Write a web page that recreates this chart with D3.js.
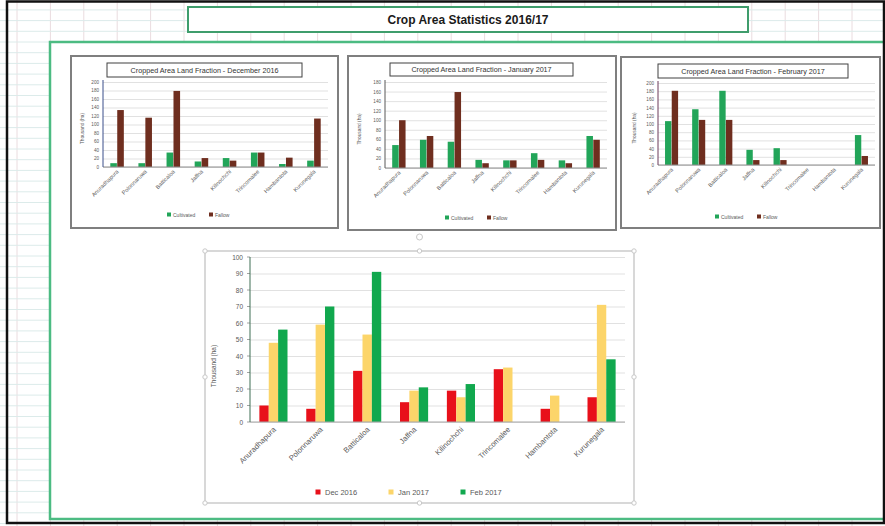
<!DOCTYPE html>
<html>
<head>
<meta charset="utf-8">
<script src="https://cdn.jsdelivr.net/npm/d3@7"></script>
<style>
  html, body { margin: 0; padding: 0; background: #ffffff; }
  svg { display: block; font-family: "Liberation Sans", Arial, sans-serif; }
</style>
</head>
<body>
<svg id="chart" width="885" height="526"></svg>
<script>
// ---------- DATA ----------
const pageTitle = "Crop Area Statistics 2016/17";
const categories = ["Anuradhapura", "Polonnaruwa", "Batticaloa", "Jaffna", "Kilinochchi", "Trincomalee", "Hambantota", "Kurunegala"];

// Main chart (Thousand ha)
const mainSeriesNames = ["Dec 2016", "Jan 2017", "Feb 2017"];
const dec2016 = [10, 8, 31, 12, 19, 32, 8, 15];
const jan2017 = [48, 59, 53, 19, 15, 33, 16, 71];
const feb2017 = [56, 70, 91, 21, 23, 0, 0, 38];
const mainTicks = [0, 10, 20, 30, 40, 50, 60, 70, 80, 90, 100];

// Small charts
const smallSeriesNames = ["Cultivated", "Fallow"];
const smallTitles = [
  "Cropped Area Land Fraction - December 2016",
  "Cropped Area Land Fraction - January 2017",
  "Cropped Area Land Fraction - February 2017"
];
const decCultivated = [9, 9, 34, 13, 21, 34, 7, 15];
const decFallow     = [134, 116, 179, 21, 15, 34, 22, 114];
const janCultivated = [48, 59, 55, 17, 16, 31, 16, 67];
const janFallow     = [100, 67, 159, 10, 16, 17, 10, 59];
const febCultivated = [107, 136, 181, 37, 41, 0, 0, 73];
const febFallow     = [181, 110, 110, 12, 12, 0, 0, 22];
const decTicks = [0, 20, 40, 60, 80, 100, 120, 140, 160, 180, 200];
const janTicks = [0, 20, 40, 60, 80, 100, 120, 140, 160, 180];
const febTicks = [0, 20, 40, 60, 80, 100, 120, 140, 160, 180, 200];
const yAxisTitle = "Thousand (ha)";

// ---------- DRAW ----------
const svg = d3.select("#chart");
const W = 885, H = 526;

// spreadsheet grid
const grid = svg.append("g");
const colXs = d3.range(-1, 27).map(k => 17 + 33.4 * k);
const rowYs = d3.range(-4, 50).map(k => 42 + 10.7 * k);
grid.selectAll("line.v").data(colXs).join("line")
  .attr("x1", d => d).attr("x2", d => d).attr("y1", 0).attr("y2", H)
  .attr("stroke", "#eadcdf").attr("stroke-width", 1);
grid.selectAll("line.h").data(rowYs).join("line")
  .attr("x1", 0).attr("x2", W).attr("y1", d => d).attr("y2", d => d)
  .attr("stroke", "#dcebea").attr("stroke-width", 1);

// white sheet area with green frame
svg.append("rect").attr("x", 50).attr("y", 42).attr("width", 840).attr("height", 477)
  .attr("fill", "#ffffff").attr("stroke", "#4cbb82").attr("stroke-width", 2.5);

// title box
svg.append("rect").attr("x", 188).attr("y", 7).attr("width", 560).attr("height", 25)
  .attr("fill", "#ffffff").attr("stroke", "#3f9d6c").attr("stroke-width", 2);
svg.append("text").attr("x", 468).attr("y", 24).attr("text-anchor", "middle")
  .attr("font-size", 12).attr("font-weight", "bold").attr("fill", "#1a1a1a")
  .text(pageTitle);

// outer black frame
svg.append("rect").attr("x", 7).attr("y", 1.5).attr("width", 877).attr("height", 521.5)
  .attr("fill", "none").attr("stroke", "#111").attr("stroke-width", 2.5);

function drawSmall(cfg) {
  const g = svg.append("g");
  const [bx0, by0, bx1, by1] = cfg.box;
  g.append("rect").attr("x", bx0).attr("y", by0).attr("width", bx1 - bx0).attr("height", by1 - by0)
    .attr("fill", "#fff").attr("stroke", "#7f7f7f").attr("stroke-width", 2);
  // title box
  const [tx0, ty0, tx1, ty1] = cfg.titleBox;
  g.append("rect").attr("x", tx0).attr("y", ty0).attr("width", tx1 - tx0).attr("height", ty1 - ty0)
    .attr("fill", "#fff").attr("stroke", "#404040").attr("stroke-width", 1);
  g.append("text").attr("x", (tx0 + tx1) / 2).attr("y", (ty0 + ty1) / 2 + 2.5)
    .attr("text-anchor", "middle").attr("font-size", 7.2).attr("fill", "#333").text(cfg.title);

  const p = cfg.plot;
  const x = d3.scaleBand().domain(categories).range([p.x0, p.x1]);
  const xs = d3.scaleBand().domain(smallSeriesNames).range([0, x.bandwidth()])
    .paddingInner(0.05).paddingOuter(1.05);
  const ymax = cfg.ticks[cfg.ticks.length - 1];
  const y = d3.scaleLinear().domain([0, ymax]).range([p.y0, p.yTop]);

  // gridlines + labels
  const ax = g.append("g").attr("transform", `translate(${p.x0},0)`)
    .call(d3.axisLeft(y).tickValues(cfg.ticks).tickSize(-(p.x1 - p.x0)).tickPadding(4));
  ax.select(".domain").remove();
  ax.selectAll(".tick line").attr("stroke", "#d9d9d9").attr("stroke-width", 0.8);
  ax.selectAll(".tick text").attr("font-size", 4.6).attr("fill", "#595959")
    .attr("font-family", "Liberation Sans, Arial, sans-serif");

  const series = [cfg.s1, cfg.s2];
  const colors = ["#22a559", "#6f2e1f"];
  categories.forEach((c, i) => {
    series.forEach((vals, j) => {
      g.append("rect")
        .attr("x", x(c) + xs(smallSeriesNames[j]))
        .attr("y", y(vals[i]))
        .attr("width", xs.bandwidth())
        .attr("height", y(0) - y(vals[i]))
        .attr("fill", colors[j]);
    });
  });
  // axes lines
  g.append("line").attr("x1", p.x0).attr("x2", p.x1).attr("y1", y(0)).attr("y2", y(0))
    .attr("stroke", "#8c8c8c").attr("stroke-width", 1);
  g.append("line").attr("x1", p.x0).attr("x2", p.x0).attr("y1", y(0)).attr("y2", p.yTop - 2)
    .attr("stroke", cfg.yAxisColor).attr("stroke-width", 1);

  // category labels
  categories.forEach(c => {
    const cx = x(c) + x.bandwidth() / 2 + 2;
    g.append("text").attr("transform", `translate(${cx},${y(0) + 5}) rotate(-45)`)
      .attr("text-anchor", "end").attr("font-size", 5.6).attr("fill", "#595959").text(c);
  });
  // y title
  g.append("text").attr("transform", `translate(${cfg.ytitleX},${(p.y0 + p.yTop) / 2 + 4}) rotate(-90)`)
    .attr("text-anchor", "middle").attr("font-size", 4.8).attr("fill", "#595959").text(yAxisTitle);

  // legend
  const lg = g.append("g").attr("transform", `translate(${cfg.legendCx},${cfg.legendY})`);
  const itemW = 38;
  smallSeriesNames.forEach((n, j) => {
    const ox = -itemW + j * (itemW + 4);
    lg.append("rect").attr("x", ox).attr("y", -2.5).attr("width", 4).attr("height", 4).attr("fill", colors[j]);
    lg.append("text").attr("x", ox + 6).attr("y", 1.5).attr("font-size", 5).attr("fill", "#595959").text(n);
  });
}

drawSmall({
  box: [71, 56, 338, 228], titleBox: [107, 63, 302, 77], title: smallTitles[0],
  plot: { x0: 103, x1: 328, y0: 167, yTop: 82 }, ticks: decTicks,
  s1: decCultivated, s2: decFallow, ytitleX: 84, legendCx: 205, legendY: 215, yAxisColor: "#3b4f8a"
});
drawSmall({
  box: [348, 56, 616, 230], titleBox: [390, 63, 573, 76], title: smallTitles[1],
  plot: { x0: 385, x1: 607, y0: 168, yTop: 82 }, ticks: janTicks,
  s1: janCultivated, s2: janFallow, ytitleX: 361, legendCx: 483, legendY: 218, yAxisColor: "#595959"
});
drawSmall({
  box: [621, 57, 880, 228], titleBox: [658, 64, 848, 78], title: smallTitles[2],
  plot: { x0: 658, x1: 875, y0: 165, yTop: 83 }, ticks: febTicks,
  s1: febCultivated, s2: febFallow, ytitleX: 636, legendCx: 753, legendY: 217, yAxisColor: "#6b3a5a"
});

// ---------- MAIN CHART ----------
(function () {
  const g = svg.append("g");
  const box = [205, 251, 634, 503];
  g.append("rect").attr("x", box[0]).attr("y", box[1]).attr("width", box[2] - box[0]).attr("height", box[3] - box[1])
    .attr("fill", "#fff").attr("stroke", "#bfbfbf").attr("stroke-width", 1.2);
  // selection handles
  const hx = [box[0], (box[0] + box[2]) / 2, box[2]], hy = [box[1], (box[1] + box[3]) / 2, box[3]];
  hx.forEach(a => hy.forEach(b => {
    if (a === hx[1] && b === hy[1]) return;
    g.append("circle").attr("cx", a).attr("cy", b).attr("r", 2.2).attr("fill", "#fff").attr("stroke", "#c8c8c8");
  }));
  g.append("circle").attr("cx", hx[1]).attr("cy", 237).attr("r", 3).attr("fill", "none").attr("stroke", "#c8c8c8");

  const x0 = 250, x1 = 625, y0 = 422, yTop = 257;
  const x = d3.scaleBand().domain(categories).range([x0, x1]);
  const xs = d3.scaleBand().domain(mainSeriesNames).range([0, x.bandwidth()]).paddingInner(0).paddingOuter(1.0);
  const y = d3.scaleLinear().domain([0, 100]).range([y0, yTop]);

  const ax = g.append("g").attr("transform", `translate(${x0},0)`)
    .call(d3.axisLeft(y).tickValues(mainTicks).tickSize(-(x1 - x0)).tickPadding(7));
  ax.select(".domain").remove();
  ax.selectAll(".tick line").attr("stroke", "#d9d9d9").attr("stroke-width", 0.8);
  ax.selectAll(".tick text").attr("font-size", 6.5).attr("fill", "#595959")
    .attr("font-family", "Liberation Sans, Arial, sans-serif");
  // small outside tick marks
  g.selectAll("line.otick").data(mainTicks).join("line")
    .attr("x1", x0 - 3).attr("x2", x0).attr("y1", d => y(d)).attr("y2", d => y(d))
    .attr("stroke", "#8c8c8c").attr("stroke-width", 0.8);

  const series = [dec2016, jan2017, feb2017];
  const colors = ["#e8101a", "#fcd56a", "#11a84e"];
  categories.forEach((c, i) => {
    series.forEach((vals, j) => {
      g.append("rect")
        .attr("x", x(c) + xs(mainSeriesNames[j]))
        .attr("y", y(vals[i]))
        .attr("width", xs.bandwidth())
        .attr("height", y(0) - y(vals[i]))
        .attr("fill", colors[j]);
    });
  });
  g.append("line").attr("x1", x0).attr("x2", x1).attr("y1", y0).attr("y2", y0)
    .attr("stroke", "#a6a6a6").attr("stroke-width", 1);
  g.append("line").attr("x1", x0).attr("x2", x0).attr("y1", y0).attr("y2", yTop)
    .attr("stroke", "#3f6f55").attr("stroke-width", 1);

  categories.forEach(c => {
    const cx = x(c) + x.bandwidth() / 2 + 3;
    g.append("text").attr("transform", `translate(${cx},${y0 + 8}) rotate(-45)`)
      .attr("text-anchor", "end").attr("font-size", 7.6).attr("fill", "#595959").text(c);
  });
  g.append("text").attr("transform", `translate(216,${366}) rotate(-90)`)
    .attr("text-anchor", "middle").attr("font-size", 6.5).attr("fill", "#595959").text(yAxisTitle);

  // legend
  const lx = [318, 391, 463];
  mainSeriesNames.forEach((n, j) => {
    g.append("rect").attr("x", lx[j] - 2.5).attr("y", 489.5).attr("width", 5).attr("height", 5).attr("fill", colors[j]);
    g.append("text").attr("x", lx[j] + 7).attr("y", 494.5).attr("font-size", 7.5).attr("fill", "#595959").text(n);
  });
})();
</script>
</body>
</html>
